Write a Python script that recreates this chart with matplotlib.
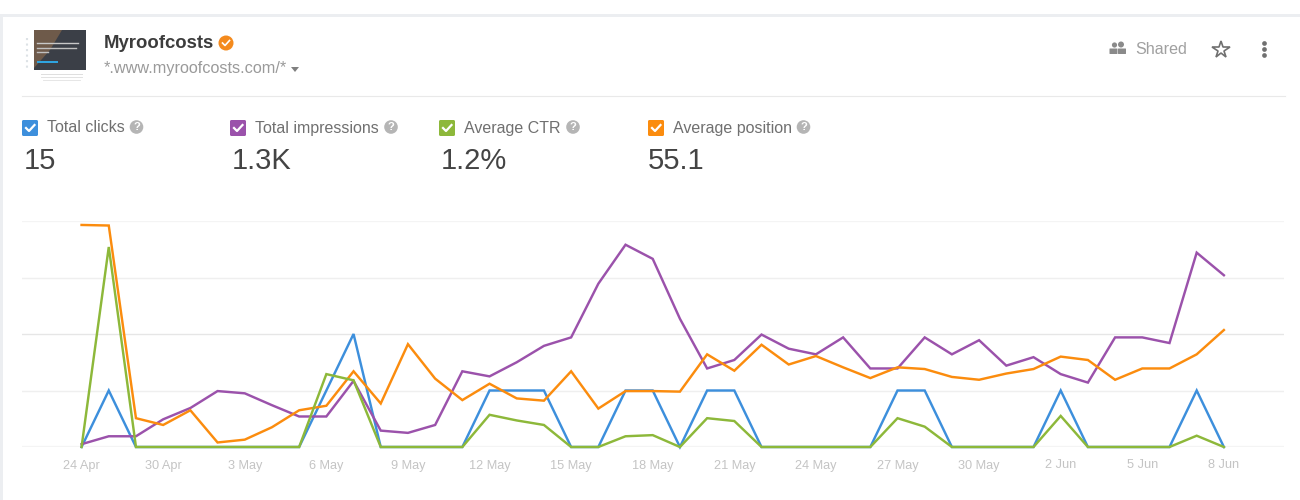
import numpy as np
import matplotlib.pyplot as plt
from matplotlib.patches import Circle, FancyBboxPatch, Rectangle, Polygon

if __name__ == '__main__':
    plt.rcParams['font.family'] = ['Liberation Sans', 'DejaVu Sans']
    print("Myroofcosts chart")
    plt.figure(figsize=(13, 5), dpi=100, facecolor='white')

    # page furniture, in pixels of the picture
    back = plt.axes([0, 0, 1, 1])
    back.set_xlim(0, 1300)
    back.set_ylim(500, 0)
    back.axis('off')
    back.add_patch(Rectangle((0, 13.5), 1300, 3, color='#eceef1', lw=0))
    back.add_patch(Rectangle((0, 13.5), 3, 487, color='#eceef1', lw=0))
    back.plot([22, 1285], [96, 96], color='#e9e9e9', lw=0.8)

    # thumbnail
    back.add_patch(Rectangle((34, 30), 52, 40, color='#3b3f47', lw=0))
    back.add_patch(Polygon([[34, 30], [62, 30], [50, 50], [34, 68]], color='#6e5a4a', lw=0))
    back.add_patch(Rectangle((37, 61), 21, 2, color='#2fa4e0', lw=0))
    back.plot([37, 78], [43, 43], color='#c8c8c8', lw=1.0)
    back.plot([37, 76], [48, 48], color='#c0c0c0', lw=1.0)
    back.plot([37, 48], [52, 52], color='#c0c0c0', lw=1.0)
    back.plot([27, 27], [38, 68], color='#dde2e6', lw=1.5, ls=':')
    back.plot([41, 82], [74, 74], color='#dedede', lw=0.7)
    back.plot([41, 82], [77, 77], color='#e2e2e2', lw=0.7)
    back.plot([43, 80], [80, 80], color='#e6e6e6', lw=0.7)

    # title block
    back.text(104, 43, 'Myroofcosts', fontsize=13.3, fontweight='bold', color='#3c3c3c', va='center')
    back.add_patch(Circle((226, 43), 7.5, color='#f48a1d', lw=0))
    back.plot([222.5, 225, 229.5], [43, 45.5, 40.5], color='white', lw=1.2)
    back.text(104, 69, '*.www.myroofcosts.com/*', fontsize=11.7, color='#9a9a9a', va='center')
    back.add_patch(Polygon([[291, 67], [299, 67], [295, 72]], color='#808080', lw=0))

    # shared, star and dots
    back.add_patch(Circle((1114.5, 45), 2.6, color='#8a8a8a', lw=0))
    back.add_patch(Circle((1121, 44.5), 3, color='#8a8a8a', lw=0))
    back.add_patch(FancyBboxPatch((1110, 49), 7, 4.5, boxstyle='round,pad=0.5', color='#8a8a8a', lw=0))
    back.add_patch(FancyBboxPatch((1118.5, 49), 7, 4.5, boxstyle='round,pad=0.5', color='#8a8a8a', lw=0))
    back.text(1135, 49, 'Shared', fontsize=11.6, color='#a0a0a0', va='center')
    back.plot([1221], [49.5], marker='*', ms=13, mfc='white', mec='#707070', mew=1.2)
    back.plot([1264, 1264, 1264], [43, 49, 55], 'o', ms=3.4, color='#707070', mew=0)

    # the four checkboxes
    legend = [(22, 'Total clicks', '#3d8fdc', '15', 136.5, 24),
              (230, 'Total impressions', '#9b52ab', '1.3K', 391, 232),
              (439, 'Average CTR', '#8db83a', '1.2%', 573, 441),
              (648, 'Average position', '#fb8c0e', '55.1', 803.5, 648)]
    for box_x, name, colour, value, mark_x, value_x in legend:
        back.add_patch(FancyBboxPatch((box_x + 1.5, 121.5), 13, 13, boxstyle='round,pad=1.5', color=colour, lw=0))
        back.plot([box_x + 4, box_x + 7, box_x + 12.5], [128, 131, 125], color='white', lw=1.6)
        back.text(box_x + 25, 128, name, fontsize=11.5, color='#707070', va='center')
        back.add_patch(Circle((mark_x, 127), 6.8, color='#b5b5b5', lw=0))
        back.text(mark_x, 127, '?', fontsize=8, fontweight='bold', color='white', ha='center', va='center')
        back.text(value_x, 161, value, fontsize=21, color='#444444', va='center')

    # values, one grid step = 1.0
    clicks = [0, 1, 0, 0, 0, 0, 0, 0, 0, 1, 2, 0, 0, 0, 0, 1, 1, 1, 0, 0, 1, 1, 0, 1, 1, 0, 0, 0, 0, 0, 1, 1, 0, 0,
              0, 0, 1, 0, 0, 0, 0, 1, 0]
    impressions = [0.05, 0.19, 0.19, 0.49, 0.69, 0.99, 0.95, 0.74, 0.54, 0.54, 1.17, 0.29, 0.25, 0.39, 1.34, 1.25,
                   1.50, 1.79, 1.94, 2.89, 3.58, 3.33, 2.27, 1.39, 1.54, 1.99, 1.74, 1.64, 1.94, 1.39, 1.39, 1.94,
                   1.64, 1.89, 1.44, 1.59, 1.29, 1.14, 1.94, 1.94, 1.84, 3.44, 3.04]
    ctr = [0, 3.54, 0, 0, 0, 0, 0, 0, 0, 1.29, 1.18, 0, 0, 0, 0, 0.57, 0.47, 0.39, 0, 0, 0.19, 0.21, 0, 0.51, 0.46,
           0, 0, 0, 0, 0, 0.51, 0.36, 0, 0, 0, 0, 0.55, 0, 0, 0, 0, 0.2, 0]
    position = [3.93, 3.92, 0.51, 0.39, 0.65, 0.08, 0.13, 0.35, 0.65, 0.73, 1.34, 0.77, 1.82, 1.21, 0.83, 1.12,
                0.86, 0.82, 1.34, 0.68, 0.99, 0.99, 0.98, 1.64, 1.35, 1.81, 1.46, 1.61, 1.41, 1.22, 1.41, 1.38,
                1.24, 1.19, 1.30, 1.38, 1.60, 1.54, 1.19, 1.39, 1.39, 1.64, 2.07]
    days = np.arange(len(clicks))
    labels = ['24 Apr', '30 Apr', '3 May', '6 May', '9 May', '12 May', '15 May', '18 May', '21 May', '24 May',
              '27 May', '30 May', '2 Jun', '5 Jun', '8 Jun']

    plt.axes([22 / 1300, 53 / 500, 1262 / 1300, 226 / 500], facecolor='none')
    plt.plot(days, clicks, color='#3d8fdc', lw=1.75, clip_on=False, solid_joinstyle='miter')
    plt.plot(days, impressions, color='#9b52ab', lw=1.75, clip_on=False, solid_joinstyle='miter')
    plt.plot(days, ctr, color='#8db83a', lw=1.75, clip_on=False, solid_joinstyle='miter', zorder=4)
    plt.plot(days, position, color='#fb8c0e', lw=1.75, clip_on=False, solid_joinstyle='miter', zorder=3)
    plt.xlim(-2.19, 44.21)
    plt.ylim(0, 4)
    plt.xticks(days[::3], labels, fontsize=9.2, color='#c4c4c4')
    plt.yticks([0, 1, 2, 3, 4], [])
    plt.tick_params(length=0, pad=9)
    plt.grid(axis='y', color='#efefef', lw=1)
    plt.gca().get_ygridlines()[0].set(color='#f4f4f4', lw=1.6)
    plt.gca().get_ygridlines()[2].set(color='#e6e6e6')
    plt.gca().get_ygridlines()[4].set(color='#f4f4f4', lw=1.6)
    plt.gca().set_axisbelow(True)
    for side in ['top', 'right', 'bottom', 'left']:
        plt.gca().spines[side].set_visible(False)

    plt.savefig('out.png', dpi=100)
